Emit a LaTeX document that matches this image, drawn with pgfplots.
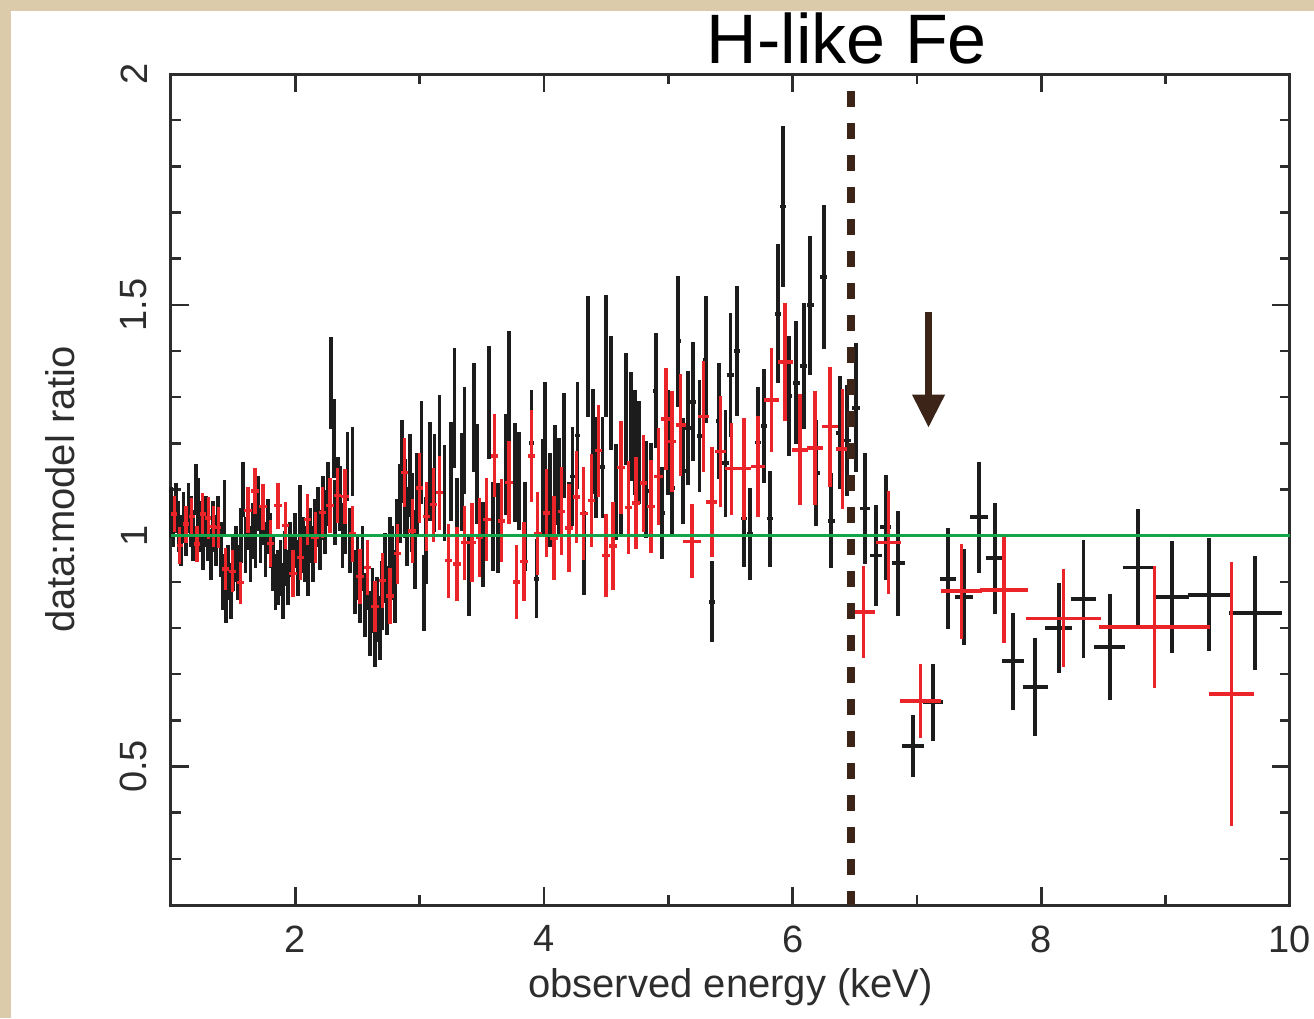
\documentclass[border=0pt]{standalone}
\usepackage{fontspec}
\setmainfont{Liberation Sans}
\usepackage{pgfplots}
\usepackage{pgfplotstable}
\pgfplotsset{compat=1.18}
\usetikzlibrary{arrows.meta}
\definecolor{bgtan}{RGB}{220,203,171}
\definecolor{dred}{RGB}{234,36,40}
\definecolor{dgreen}{RGB}{20,165,75}
\definecolor{febrown}{RGB}{61,36,25}
\definecolor{axgray}{RGB}{45,45,45}
\definecolor{dblack}{RGB}{28,28,28}

\pgfplotstableread{
x y ex ey
1.00 1.05 0.012 0.055
1.02 1.03 0.012 0.055
1.04 1.06 0.012 0.055
1.06 1.02 0.012 0.055
1.08 0.99 0.012 0.055
1.10 1.04 0.012 0.055
1.12 1.01 0.012 0.055
1.14 1.06 0.012 0.055
1.16 1.03 0.012 0.055
1.18 1.00 0.012 0.055
1.20 1.10 0.012 0.055
1.22 1.07 0.012 0.055
1.24 1.02 0.012 0.055
1.26 0.98 0.012 0.055
1.28 1.03 0.012 0.055
1.30 1.00 0.012 0.055
1.32 0.96 0.012 0.055
1.34 1.02 0.012 0.055
1.36 0.99 0.012 0.055
1.38 1.03 0.012 0.055
1.40 0.97 0.012 0.060
1.42 0.90 0.012 0.060
1.43 1.06 0.012 0.060
1.44 0.87 0.012 0.060
1.46 0.92 0.012 0.060
1.48 0.88 0.012 0.060
1.50 0.94 0.012 0.060
1.52 0.96 0.012 0.060
1.54 0.92 0.012 0.060
1.56 1.00 0.012 0.060
1.58 1.10 0.012 0.060
1.60 0.98 0.012 0.060
1.62 1.03 0.012 0.060
1.64 0.96 0.012 0.060
1.66 1.01 0.012 0.060
1.68 0.99 0.012 0.060
1.70 1.07 0.012 0.060
1.72 1.00 0.012 0.060
1.74 1.04 0.012 0.060
1.76 0.97 0.012 0.060
1.78 1.02 0.012 0.060
1.80 0.99 0.012 0.060
1.82 0.94 0.012 0.060
1.84 0.90 0.012 0.060
1.86 0.91 0.012 0.060
1.88 0.93 0.012 0.060
1.90 0.88 0.012 0.060
1.92 0.95 0.012 0.060
1.94 0.91 0.012 0.060
1.96 0.97 0.012 0.060
1.98 0.94 0.012 0.060
2.00 0.99 0.012 0.060
2.02 0.93 0.012 0.060
2.04 1.05 0.012 0.060
2.06 0.98 0.012 0.060
2.08 0.96 0.012 0.060
2.10 0.93 0.012 0.060
2.12 1.00 0.012 0.060
2.14 0.96 0.012 0.060
2.16 1.02 0.012 0.060
2.18 1.04 0.012 0.065
2.20 0.99 0.012 0.065
2.22 1.06 0.012 0.070
2.24 1.03 0.012 0.070
2.26 1.09 0.012 0.070
2.29 1.33 0.012 0.100
2.31 1.21 0.012 0.085
2.32 1.05 0.012 0.070
2.34 1.10 0.012 0.070
2.36 1.08 0.012 0.070
2.38 1.00 0.012 0.070
2.40 1.03 0.012 0.070
2.42 1.15 0.012 0.075
2.44 0.99 0.012 0.070
2.46 1.16 0.012 0.075
2.48 0.90 0.012 0.070
2.50 0.93 0.012 0.070
2.52 0.88 0.012 0.070
2.54 0.95 0.012 0.070
2.56 0.85 0.012 0.070
2.58 0.91 0.012 0.070
2.60 0.81 0.012 0.070
2.62 0.86 0.012 0.070
2.64 0.78 0.012 0.065
2.66 0.84 0.012 0.070
2.68 0.80 0.012 0.070
2.70 0.87 0.012 0.075
2.72 0.93 0.012 0.075
2.74 0.86 0.012 0.075
2.76 0.96 0.012 0.080
2.78 0.94 0.012 0.080
2.80 0.89 0.012 0.080
2.82 1.00 0.012 0.080
2.84 1.07 0.012 0.085
2.86 1.16 0.012 0.090
2.88 1.08 0.012 0.085
2.90 1.02 0.012 0.085
2.92 1.13 0.012 0.090
2.94 1.05 0.012 0.085
2.96 0.97 0.012 0.085
2.98 1.09 0.012 0.090
3.015 1.180 0.015 0.112
3.035 0.876 0.015 0.083
3.050 0.990 0.015 0.094
3.080 1.139 0.015 0.108
3.120 1.115 0.015 0.106
3.160 1.191 0.015 0.113
3.200 1.093 0.015 0.104
3.250 1.139 0.015 0.108
3.280 1.276 0.015 0.130
3.300 1.027 0.015 0.098
3.340 1.116 0.015 0.106
3.360 1.206 0.015 0.115
3.400 0.913 0.015 0.087
3.440 1.256 0.015 0.119
3.460 1.134 0.015 0.108
3.510 0.981 0.015 0.093
3.560 1.289 0.015 0.122
3.590 1.020 0.015 0.097
3.630 1.017 0.015 0.097
3.690 1.154 0.015 0.110
3.720 1.318 0.015 0.125
3.770 1.137 0.015 0.108
3.800 1.119 0.015 0.106
3.850 1.020 0.015 0.097
3.900 1.201 0.018 0.114
3.940 0.907 0.018 0.086
3.990 1.105 0.018 0.105
4.010 1.216 0.018 0.116
4.050 1.077 0.018 0.102
4.090 1.132 0.018 0.108
4.120 1.107 0.018 0.105
4.160 1.195 0.018 0.114
4.200 1.020 0.018 0.097
4.230 1.128 0.018 0.107
4.270 1.217 0.018 0.116
4.320 0.963 0.018 0.091
4.355 1.388 0.018 0.132
4.395 1.204 0.018 0.114
4.420 1.148 0.018 0.109
4.470 1.148 0.018 0.109
4.500 1.390 0.018 0.132
4.540 1.309 0.018 0.124
4.580 1.094 0.018 0.104
4.620 1.108 0.018 0.105
4.660 1.275 0.018 0.121
4.700 1.237 0.018 0.118
4.730 1.202 0.018 0.114
4.765 1.180 0.018 0.112
4.820 1.100 0.020 0.105
4.860 1.097 0.020 0.104
4.900 1.314 0.020 0.125
4.950 1.049 0.020 0.100
5.000 1.202 0.020 0.114
5.030 1.103 0.020 0.105
5.080 1.421 0.022 0.142
5.120 1.140 0.022 0.114
5.160 1.233 0.022 0.123
5.200 1.290 0.022 0.129
5.250 1.216 0.022 0.122
5.300 1.381 0.022 0.138
5.350 0.857 0.022 0.088
5.410 1.248 0.025 0.125
5.460 1.157 0.025 0.116
5.500 1.348 0.025 0.135
5.550 1.400 0.025 0.140
5.610 1.037 0.025 0.104
5.660 1.004 0.025 0.100
5.720 1.202 0.025 0.120
5.770 1.238 0.025 0.124
5.820 1.037 0.025 0.104
5.880 1.481 0.025 0.150
5.920 1.713 0.025 0.175
5.970 1.302 0.025 0.130
6.030 1.331 0.028 0.133
6.090 1.368 0.028 0.137
6.140 1.499 0.028 0.150
6.190 1.136 0.028 0.114
6.250 1.560 0.028 0.156
6.310 1.032 0.028 0.103
6.380 1.223 0.030 0.122
6.440 1.206 0.030 0.121
6.510 1.277 0.030 0.140
6.580 1.059 0.040 0.120
6.670 0.957 0.045 0.109
6.750 1.018 0.045 0.113
6.850 0.940 0.050 0.114
6.970 0.544 0.087 0.067
7.130 0.639 0.078 0.084
7.250 0.907 0.067 0.110
7.380 0.867 0.074 0.104
7.500 1.040 0.070 0.120
7.630 0.951 0.072 0.120
7.770 0.728 0.090 0.105
7.950 0.673 0.100 0.106
8.140 0.800 0.110 0.098
8.340 0.863 0.100 0.127
8.550 0.759 0.126 0.114
8.780 0.931 0.127 0.126
9.050 0.867 0.140 0.121
9.350 0.872 0.170 0.122
9.720 0.833 0.213 0.124
}\blackdata

\pgfplotstableread{
x y ex ey
1.027 1.047 0.025 0.040
1.070 0.979 0.025 0.040
1.120 1.025 0.025 0.040
1.166 1.042 0.025 0.040
1.210 0.982 0.025 0.040
1.255 1.047 0.025 0.045
1.300 1.038 0.025 0.045
1.340 1.020 0.025 0.045
1.380 1.018 0.025 0.045
1.440 0.928 0.028 0.045
1.495 0.923 0.028 0.045
1.560 0.898 0.030 0.045
1.620 1.055 0.030 0.050
1.675 1.097 0.030 0.050
1.740 1.063 0.030 0.050
1.800 0.983 0.030 0.050
1.860 1.065 0.030 0.050
1.920 1.022 0.030 0.050
1.980 0.918 0.030 0.050
2.040 0.953 0.030 0.050
2.100 1.035 0.030 0.055
2.160 0.996 0.030 0.055
2.220 1.050 0.030 0.055
2.280 1.065 0.030 0.060
2.340 1.087 0.030 0.060
2.400 1.085 0.030 0.060
2.460 1.004 0.030 0.060
2.520 0.912 0.030 0.060
2.580 0.931 0.030 0.060
2.640 0.847 0.030 0.055
2.700 0.903 0.030 0.060
2.760 0.869 0.030 0.060
2.820 0.961 0.030 0.065
2.880 1.137 0.030 0.075
2.940 1.010 0.030 0.070
3.000 1.103 0.030 0.075
3.055 1.042 0.030 0.075
3.110 1.067 0.030 0.080
3.160 1.093 0.030 0.080
3.230 0.946 0.030 0.080
3.300 0.939 0.030 0.080
3.360 0.985 0.030 0.080
3.420 0.985 0.030 0.085
3.480 0.996 0.030 0.085
3.540 1.035 0.030 0.090
3.600 1.173 0.030 0.090
3.660 1.032 0.030 0.090
3.720 1.115 0.030 0.090
3.780 0.900 0.030 0.080
3.840 0.944 0.030 0.085
3.900 1.173 0.030 0.100
3.950 1.004 0.030 0.090
4.020 1.049 0.030 0.095
4.080 0.995 0.030 0.090
4.140 1.053 0.030 0.095
4.200 1.017 0.030 0.095
4.260 1.084 0.030 0.100
4.320 1.048 0.030 0.100
4.380 1.076 0.030 0.100
4.440 1.184 0.030 0.100
4.500 0.957 0.030 0.090
4.555 0.978 0.030 0.095
4.620 1.148 0.030 0.100
4.680 1.061 0.030 0.100
4.740 1.071 0.030 0.100
4.800 1.114 0.030 0.105
4.860 1.063 0.030 0.100
4.920 1.128 0.035 0.105
4.980 1.253 0.035 0.110
5.030 1.204 0.035 0.110
5.100 1.240 0.040 0.110
5.190 0.988 0.070 0.080
5.285 1.258 0.045 0.120
5.350 1.073 0.045 0.120
5.420 1.182 0.045 0.120
5.510 1.145 0.054 0.100
5.610 1.145 0.054 0.110
5.720 1.150 0.054 0.110
5.830 1.294 0.060 0.112
5.940 1.376 0.060 0.128
6.060 1.186 0.067 0.120
6.180 1.190 0.067 0.124
6.300 1.236 0.067 0.130
6.400 1.188 0.050 0.130
6.570 0.835 0.096 0.099
6.770 0.985 0.100 0.111
7.030 0.642 0.167 0.081
7.360 0.880 0.165 0.103
7.700 0.882 0.190 0.115
8.180 0.821 0.300 0.106
8.910 0.802 0.450 0.133
9.530 0.657 0.180 0.285
}\reddata

\begin{document}
\begin{tikzpicture}
\fill[bgtan] (-42.75pt,-28.25pt) rectangle (285.75pt,226.25pt);
\fill[white] (-40pt,-28.25pt) rectangle (285.75pt,223.5pt);
\begin{axis}[
  scale only axis, width=279.75pt, height=207.75pt,
  at={(0pt,0pt)}, anchor=south west,
  xmin=1, xmax=10, ymin=0.2, ymax=2,
  clip=false,
  xtick={2,4,6,8,10}, xticklabels={2,4,6,8,10},
  minor xtick={1,3,5,7,9},
  ytick={0.5,1,1.5,2}, yticklabels={0.5,1,1.5,2},
  minor ytick={0.3,0.4,0.6,0.7,0.8,0.9,1.1,1.2,1.3,1.4,1.6,1.7,1.8,1.9},
  tick align=inside,
  major tick length=4.5pt, minor tick length=2.4pt,
  axis line style={axgray, line width=0.75pt},
  every tick/.style={axgray, line width=0.6pt},
  tick label style={font=\fontsize{9.5}{11}\selectfont, text=axgray},
  xticklabel style={anchor=north, inner sep=0pt},
  xticklabel shift=5pt,
  yticklabel style={rotate=90, anchor=south, inner sep=0pt},
  yticklabel shift=5.75pt,
  xlabel={observed energy (keV)},
  ylabel={data:model ratio},
  every axis x label/.style={at={(axis description cs:0.5,-0.1107)}, anchor=base, font=\fontsize{10}{12}\selectfont, text=axgray},
  every axis y label/.style={at={(axis description cs:-0.0858,0.5)}, rotate=90, anchor=base, font=\fontsize{10}{12}\selectfont, text=axgray},
]
\addplot[draw=none, mark=none, mark size=0pt, mark options={draw=none, fill=none, opacity=0},
  error bars/.cd, x dir=both, x explicit, y dir=both, y explicit,
  error mark=none, error bar style={draw=dblack, solid, line width=0.95pt}]
  table[x=x, y=y, x error=ex, y error=ey] {\blackdata};
\addplot[draw=none, mark=none, mark size=0pt, mark options={draw=none, fill=none, opacity=0},
  error bars/.cd, x dir=both, x explicit, y dir=both, y explicit,
  error mark=none, error bar style={draw=dred, solid, line width=0.85pt}]
  table[x=x, y=y, x error=ex, y error=ey] {\reddata};
\addplot[dgreen, line width=0.8pt] coordinates {(1,1) (10,1)};
\addplot[febrown, line width=2pt, dash pattern=on 4pt off 4pt] coordinates {(6.466,1.963) (6.466,0.2)};
\draw[febrown, line width=1.75pt, -{Triangle[width=7.75pt,length=8.25pt]}] (axis cs:7.093,1.485) -- (axis cs:7.093,1.234);
\node[anchor=base, font=\fontsize{17.5}{20}\selectfont, text=black] at (axis description cs:0.604,1.0132) {H-like Fe};
\end{axis}
\pgfresetboundingbox
\path[use as bounding box] (-42.75pt,-28.25pt) rectangle (285.75pt,226.25pt);
\end{tikzpicture}
\end{document}
